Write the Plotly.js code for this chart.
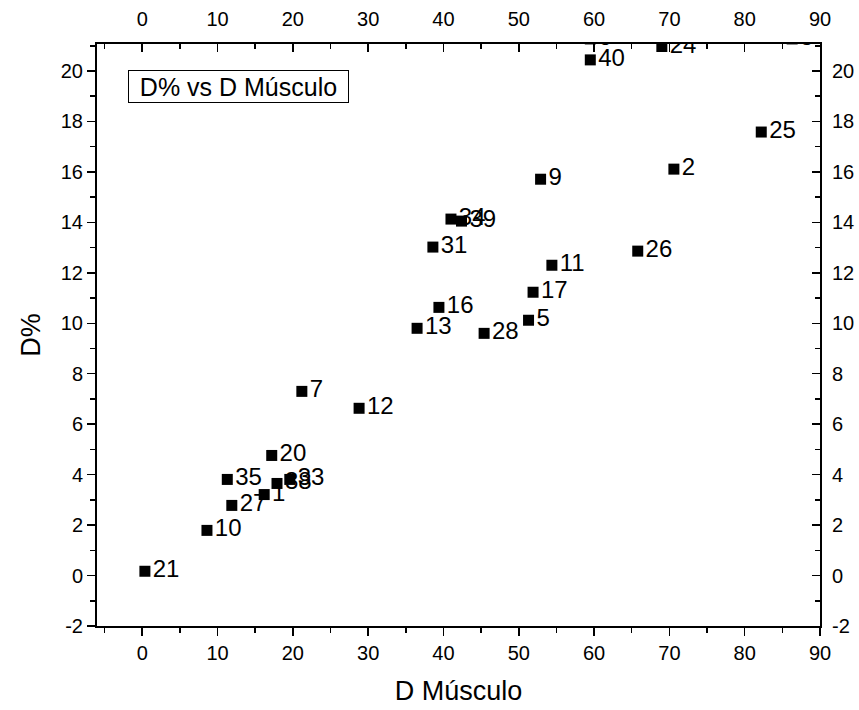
<!DOCTYPE html>
<html>
<head>
<meta charset="utf-8">
<script src="https://cdn.plot.ly/plotly-3.0.1.min.js"></script>
<style>html,body{margin:0;padding:0;background:#fff;}#chart{width:859px;height:710px;}</style>
</head>
<body>
<div id="chart"></div>
<script>
// Data
const labels = ["21","10","27","35","1","38","33","20","7","12","13","16","28","5","17","11","31","34","39","9","26","2","25","40","24","6","3"];
const dMusculo = [0.36,8.6,11.9,11.3,16.2,17.9,19.6,17.2,21.2,28.8,36.5,39.4,45.4,51.3,51.9,54.4,38.6,41.0,42.4,52.9,65.8,70.6,82.2,59.5,69.0,59.5,86.3];
const dPercent = [0.17,1.79,2.78,3.81,3.21,3.65,3.81,4.76,7.30,6.63,9.80,10.63,9.60,10.12,11.23,12.30,13.02,14.13,14.05,15.71,12.86,16.11,17.58,20.44,20.97,21.27,21.27];
const xTickVals = [0,10,20,30,40,50,60,70,80,90];
const xTickText = ["0","10","20","30","40","50","60","70","80","90"];
const yTickVals = [-2,0,2,4,6,8,10,12,14,16,18,20];
const yTickText = ["-2","0","2","4","6","8","10","12","14","16","18","20"];
const xRange = [-6, 90];
const yRange = [-2, 21.07];
const legendText = "D% vs D Músculo";
const xTitle = "D Músculo";
const yTitle = "D%";

const FONT = "Liberation Sans, Arial, sans-serif";

const traces = [
  {
    x: dMusculo, y: dPercent, text: labels,
    type: "scatter", mode: "markers+text",
    textposition: "middle right",
    textfont: {family: FONT, size: 24, color: "#000"},
    marker: {symbol: "square", size: 11, color: "#000"},
    cliponaxis: true, showlegend: false, hoverinfo: "x+y+text"
  },
  {x: [], y: [], xaxis: "x2", yaxis: "y2", type: "scatter", mode: "markers", showlegend: false}
];

const common = {
  showline: true, linecolor: "#000", linewidth: 2,
  showgrid: false, zeroline: false,
  tickcolor: "#000", tickwidth: 1.5, ticklen: 8
};

const layout = {
  width: 859, height: 710,
  margin: {l: 97, r: 39, t: 44, b: 84},
  paper_bgcolor: "#fff", plot_bgcolor: "#fff",
  showlegend: false,
  xaxis: Object.assign({}, common, {
    range: xRange, tickmode: "array", tickvals: xTickVals, ticktext: xTickText, ticks: "outside",
    tickfont: {family: FONT, size: 20, color: "#000"},
    minor: {dtick: 5, tick0: 0, ticks: "outside", ticklen: 5, tickwidth: 1.5, tickcolor: "#000"},
    title: {text: xTitle, font: {family: FONT, size: 27, color: "#000"}, standoff: 18}
  }),
  xaxis2: Object.assign({}, common, {
    range: xRange, tickmode: "array", tickvals: xTickVals, ticktext: xTickText, ticks: "inside", side: "top",
    overlaying: "x", anchor: "y", ticklabelstandoff: 8,
    tickfont: {family: FONT, size: 20, color: "#000"},
    minor: {dtick: 5, tick0: 0, ticks: "inside", ticklen: 5, tickwidth: 1.5, tickcolor: "#000"}
  }),
  yaxis: Object.assign({}, common, {
    range: yRange, tickmode: "array", tickvals: yTickVals, ticktext: yTickText, ticks: "outside",
    tickfont: {family: FONT, size: 20, color: "#000"},
    minor: {dtick: 1, tick0: 0, ticks: "outside", ticklen: 5, tickwidth: 1.5, tickcolor: "#000"},
    title: {text: yTitle, font: {family: FONT, size: 27, color: "#000"}, standoff: 12}
  }),
  yaxis2: Object.assign({}, common, {
    range: yRange, tickmode: "array", tickvals: yTickVals, ticktext: yTickText, ticks: "inside", side: "right",
    overlaying: "y", anchor: "x", ticklabelstandoff: 6,
    tickfont: {family: FONT, size: 20, color: "#000"},
    minor: {dtick: 1, tick0: 0, ticks: "inside", ticklen: 5, tickwidth: 1.5, tickcolor: "#000"}
  }),
  annotations: [{
    text: legendText, xref: "paper", yref: "paper",
    x: 0.043, y: 0.955, xanchor: "left", yanchor: "top",
    showarrow: false, align: "center",
    font: {family: FONT, size: 25, color: "#000"},
    bordercolor: "#000", borderwidth: 1, width: 217, height: 29,
    bgcolor: "#fff"
  }]
};

Plotly.newPlot("chart", traces, layout, {displayModeBar: false, staticPlot: true});
</script>
</body>
</html>
